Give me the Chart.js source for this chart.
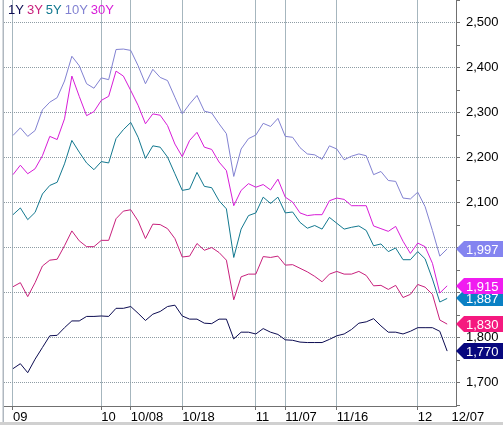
<!DOCTYPE html>
<html>
<head>
<meta charset="utf-8">
<script src="https://cdn.jsdelivr.net/npm/chart.js@4.4.1/dist/chart.umd.min.js"></script>
<style>
  html, body { margin: 0; padding: 0; background: #fff; overflow: hidden; }
  #wrap { position: relative; width: 503px; height: 425px; }
</style>
</head>
<body>
<div id="wrap"><canvas id="chart"></canvas></div>
<script>
// trading days, 09/10 .. 12/07
const dates = [
    '09/10','09/11','09/12','09/13','09/14','09/17','09/18','09/19','09/20','09/21','09/27','09/28',
    '10/01','10/02','10/04','10/05','10/08','10/10','10/11','10/12','10/15','10/16','10/17','10/18',
    '10/19','10/22','10/23','10/24','10/25','10/26','10/29','10/30','10/31',
    '11/01','11/02','11/05','11/06','11/07','11/08','11/09','11/12','11/13','11/14','11/15','11/16',
    '11/19','11/20','11/21','11/22','11/23','11/26','11/27','11/28','11/29','11/30',
    '12/03','12/04','12/05','12/06','12/07'
];

// dates that get a label on the bottom axis, and the text shown
const tickDates = ['09/10', '10/01', '10/08', '10/18', '11/01', '11/07', '11/16', '12/03', '12/07'];
const tickTexts = ['09', '10', '10/08', '10/18', '11', '11/07', '11/16', '12', '12/07'];

const yTickValues = [1650,1700,1750,1800,1850,1900,1950,2000,2050,2100,2150,2200,2250,2300,2350,2400,2450,2500,2550];

const seriesNames = ['1Y', '3Y', '5Y', '10Y', '30Y'];

const y1 = [1731,1742,1722,1752,1778,1804,1805,1822,1837,1837,
            1847,1847,1848,1847,1865,1865,1869,1854,1838,1852,
            1858,1869,1872,1848,1841,1841,1832,1831,1841,1841,
            1797,1812,1812,1808,1820,1812,1807,1795,1794,1790,
            1789,1789,1789,1796,1804,1808,1818,1832,1835,1842,
            1826,1812,1812,1808,1814,1822,1822,1822,1814,1770];
const y3 = [1913,1922,1891,1922,1959,1972,1974,2004,2037,2015,
            2002,2002,2016,2016,2064,2081,2084,2059,2020,2052,
            2051,2042,2020,1979,1981,2009,1994,2000,1989,1972,
            1884,1935,1941,1941,1980,1978,1981,1961,1962,1954,
            1946,1936,1924,1941,1947,1941,1941,1947,1938,1915,
            1916,1907,1916,1889,1896,1918,1912,1896,1839,1830];
const y5 = [2073,2088,2062,2078,2119,2138,2145,2186,2238,2212,
            2188,2173,2191,2188,2242,2262,2278,2245,2198,2226,
            2223,2201,2164,2127,2130,2167,2136,2133,2104,2086,
            1978,2041,2071,2077,2112,2098,2112,2077,2079,2056,
            2043,2049,2041,2067,2054,2041,2045,2048,2038,2004,
            2008,1991,1999,1973,1973,1991,1975,1930,1879,1887];
const y10 = [2249,2266,2247,2260,2306,2323,2333,2370,2425,2404,
             2364,2354,2377,2373,2440,2441,2438,2404,2364,2396,
             2378,2371,2334,2297,2319,2338,2303,2299,2275,2253,
             2158,2219,2242,2250,2276,2269,2287,2247,2245,2222,
             2208,2206,2196,2226,2219,2195,2203,2208,2204,2162,
             2169,2149,2147,2110,2108,2123,2091,2038,1981,1997];
const y30 = [2162,2183,2164,2175,2204,2247,2240,2286,2381,2336,
             2293,2302,2327,2336,2392,2381,2349,2316,2275,2297,
             2294,2271,2230,2202,2238,2256,2223,2218,2190,2171,
             2093,2127,2142,2134,2140,2128,2152,2112,2101,2077,
             2071,2073,2073,2104,2110,2107,2093,2093,2093,2048,
             2042,2036,2047,2014,1987,2010,2002,1965,1899,1915];

const lineColors = ['#0c0c52', '#c8207c', '#12788f', '#8282d2', '#d81cd8'];
const boxColors  = ['#08087e', '#f5197f', '#0a80c4', '#8484f0', '#f01cf0'];

const FONT = "'Liberation Sans', Arial, sans-serif";
const FSIZE = 13;

function toPoints(values) {
    return values.map((v, i) => ({ x: i, y: v }));
}

// x position of each labelled date (last one sits at the right edge)
const xTickPos = tickDates.map((d, i) => i === tickDates.length - 1 ? dates.indexOf(d) + 0.6 : dates.indexOf(d));

// legend text at top-left of the plot
const legendPlugin = {
    id: 'topLegend',
    afterDraw(chart) {
        const ctx = chart.ctx;
        let x = 8;
        ctx.save();
        ctx.font = FSIZE + 'px ' + FONT;
        ctx.textBaseline = 'alphabetic';
        ctx.textAlign = 'left';
        seriesNames.forEach((name, i) => {
            ctx.fillStyle = lineColors[i];
            ctx.fillText(name, x, 14);
            x += ctx.measureText(name).width + 3;
        });
        ctx.restore();
    }
};

// last-value tags on the right axis
const tagPlugin = {
    id: 'lastTags',
    afterDraw(chart) {
        const ctx = chart.ctx;
        const yScale = chart.scales.y;
        const left = chart.chartArea.right;
        const order = [3, 2, 4, 1, 0];
        ctx.save();
        ctx.font = FSIZE + 'px ' + FONT;
        ctx.textBaseline = 'middle';
        ctx.textAlign = 'left';
        order.forEach(i => {
            const data = chart.data.datasets[i].data;
            const v = data[data.length - 1].y;
            const y = Math.round(yScale.getPixelForValue(v));
            ctx.fillStyle = boxColors[i];
            ctx.beginPath();
            ctx.moveTo(left, y);
            ctx.lineTo(left + 8, y - 8);
            ctx.lineTo(503, y - 8);
            ctx.lineTo(503, y + 8);
            ctx.lineTo(left + 8, y + 8);
            ctx.closePath();
            ctx.fill();
            ctx.fillStyle = '#fff';
            ctx.fillText(v.toLocaleString('en-US'), left + 10, y + 1);
        });
        ctx.restore();
    }
};

const framePlugin = {
    id: 'frame',
    beforeDraw(chart) {
        const ctx = chart.ctx;
        ctx.save();
        ctx.fillStyle = '#fff';
        ctx.fillRect(0, 0, chart.width, chart.height);
        ctx.restore();
    },
    afterDraw(chart) {
        const ctx = chart.ctx;
        ctx.save();
        ctx.fillStyle = '#b0b8c0';
        ctx.fillRect(2.5, 0, 1.5, chart.height);
        ctx.fillStyle = '#d0d0d0';
        ctx.fillRect(0, chart.height - 3, chart.width, 3);
        ctx.restore();
    }
};

const seriesData = [y1, y3, y5, y10, y30];

new Chart(document.getElementById('chart'), {
    type: 'line',
    data: {
        datasets: seriesData.map((vals, i) => ({
            label: seriesNames[i],
            data: toPoints(vals),
            borderColor: lineColors[i],
            borderWidth: 1,
            pointRadius: 0,
            tension: 0,
            fill: false
        }))
    },
    options: {
        responsive: true,
        maintainAspectRatio: false,
        animation: false,
        layout: { padding: { left: 4, top: 0, right: 0, bottom: 0 } },
        plugins: {
            legend: { display: false },
            tooltip: { enabled: false }
        },
        scales: {
            x: {
                type: 'linear',
                min: -1.223,
                max: 60.2,
                afterBuildTicks: s => { s.ticks = xTickPos.map(p => ({ value: p })); },
                afterFit: s => {
                    s.height = 19;
                    s.paddingLeft = 0;
                    s.paddingRight = 0;
                },
                ticks: {
                    autoSkip: false,
                    maxRotation: 0,
                    minRotation: 0,
                    align: 'start',
                    padding: 0,
                    color: '#000',
                    font: { family: FONT, size: FSIZE },
                    callback: (v, i) => tickTexts[i]
                },
                grid: {
                    color: c => (c.index === tickTexts.length - 1 ? 'rgba(0,0,0,0)' : '#a6b6be'),
                    tickColor: c => (c.index === tickTexts.length - 1 ? 'rgba(0,0,0,0)' : '#707070'),
                    tickLength: 4,
                    lineWidth: 1
                },
                border: { display: true, color: '#707070' }
            },
            y: {
                position: 'right',
                min: 1648,
                max: 2550,
                afterBuildTicks: s => { s.ticks = yTickValues.map(v => ({ value: v })); },
                afterFit: s => {
                    s.width = 47;
                    s.paddingTop = 0;
                    s.paddingBottom = 0;
                },
                ticks: {
                    padding: 6,
                    color: '#000',
                    font: { family: FONT, size: FSIZE },
                    callback: v => (v % 100 === 0 ? v.toLocaleString('en-US') : '')
                },
                grid: {
                    color: c => (c.tick && c.tick.value % 100 === 0 ? '#8e9ca4' : 'rgba(0,0,0,0)'),
                    tickColor: '#707070',
                    tickLength: 4,
                    lineWidth: 1
                },
                border: { display: true, color: '#707070', dash: [1, 1] }
            }
        }
    },
    plugins: [framePlugin, legendPlugin, tagPlugin]
});
</script>
</body>
</html>
